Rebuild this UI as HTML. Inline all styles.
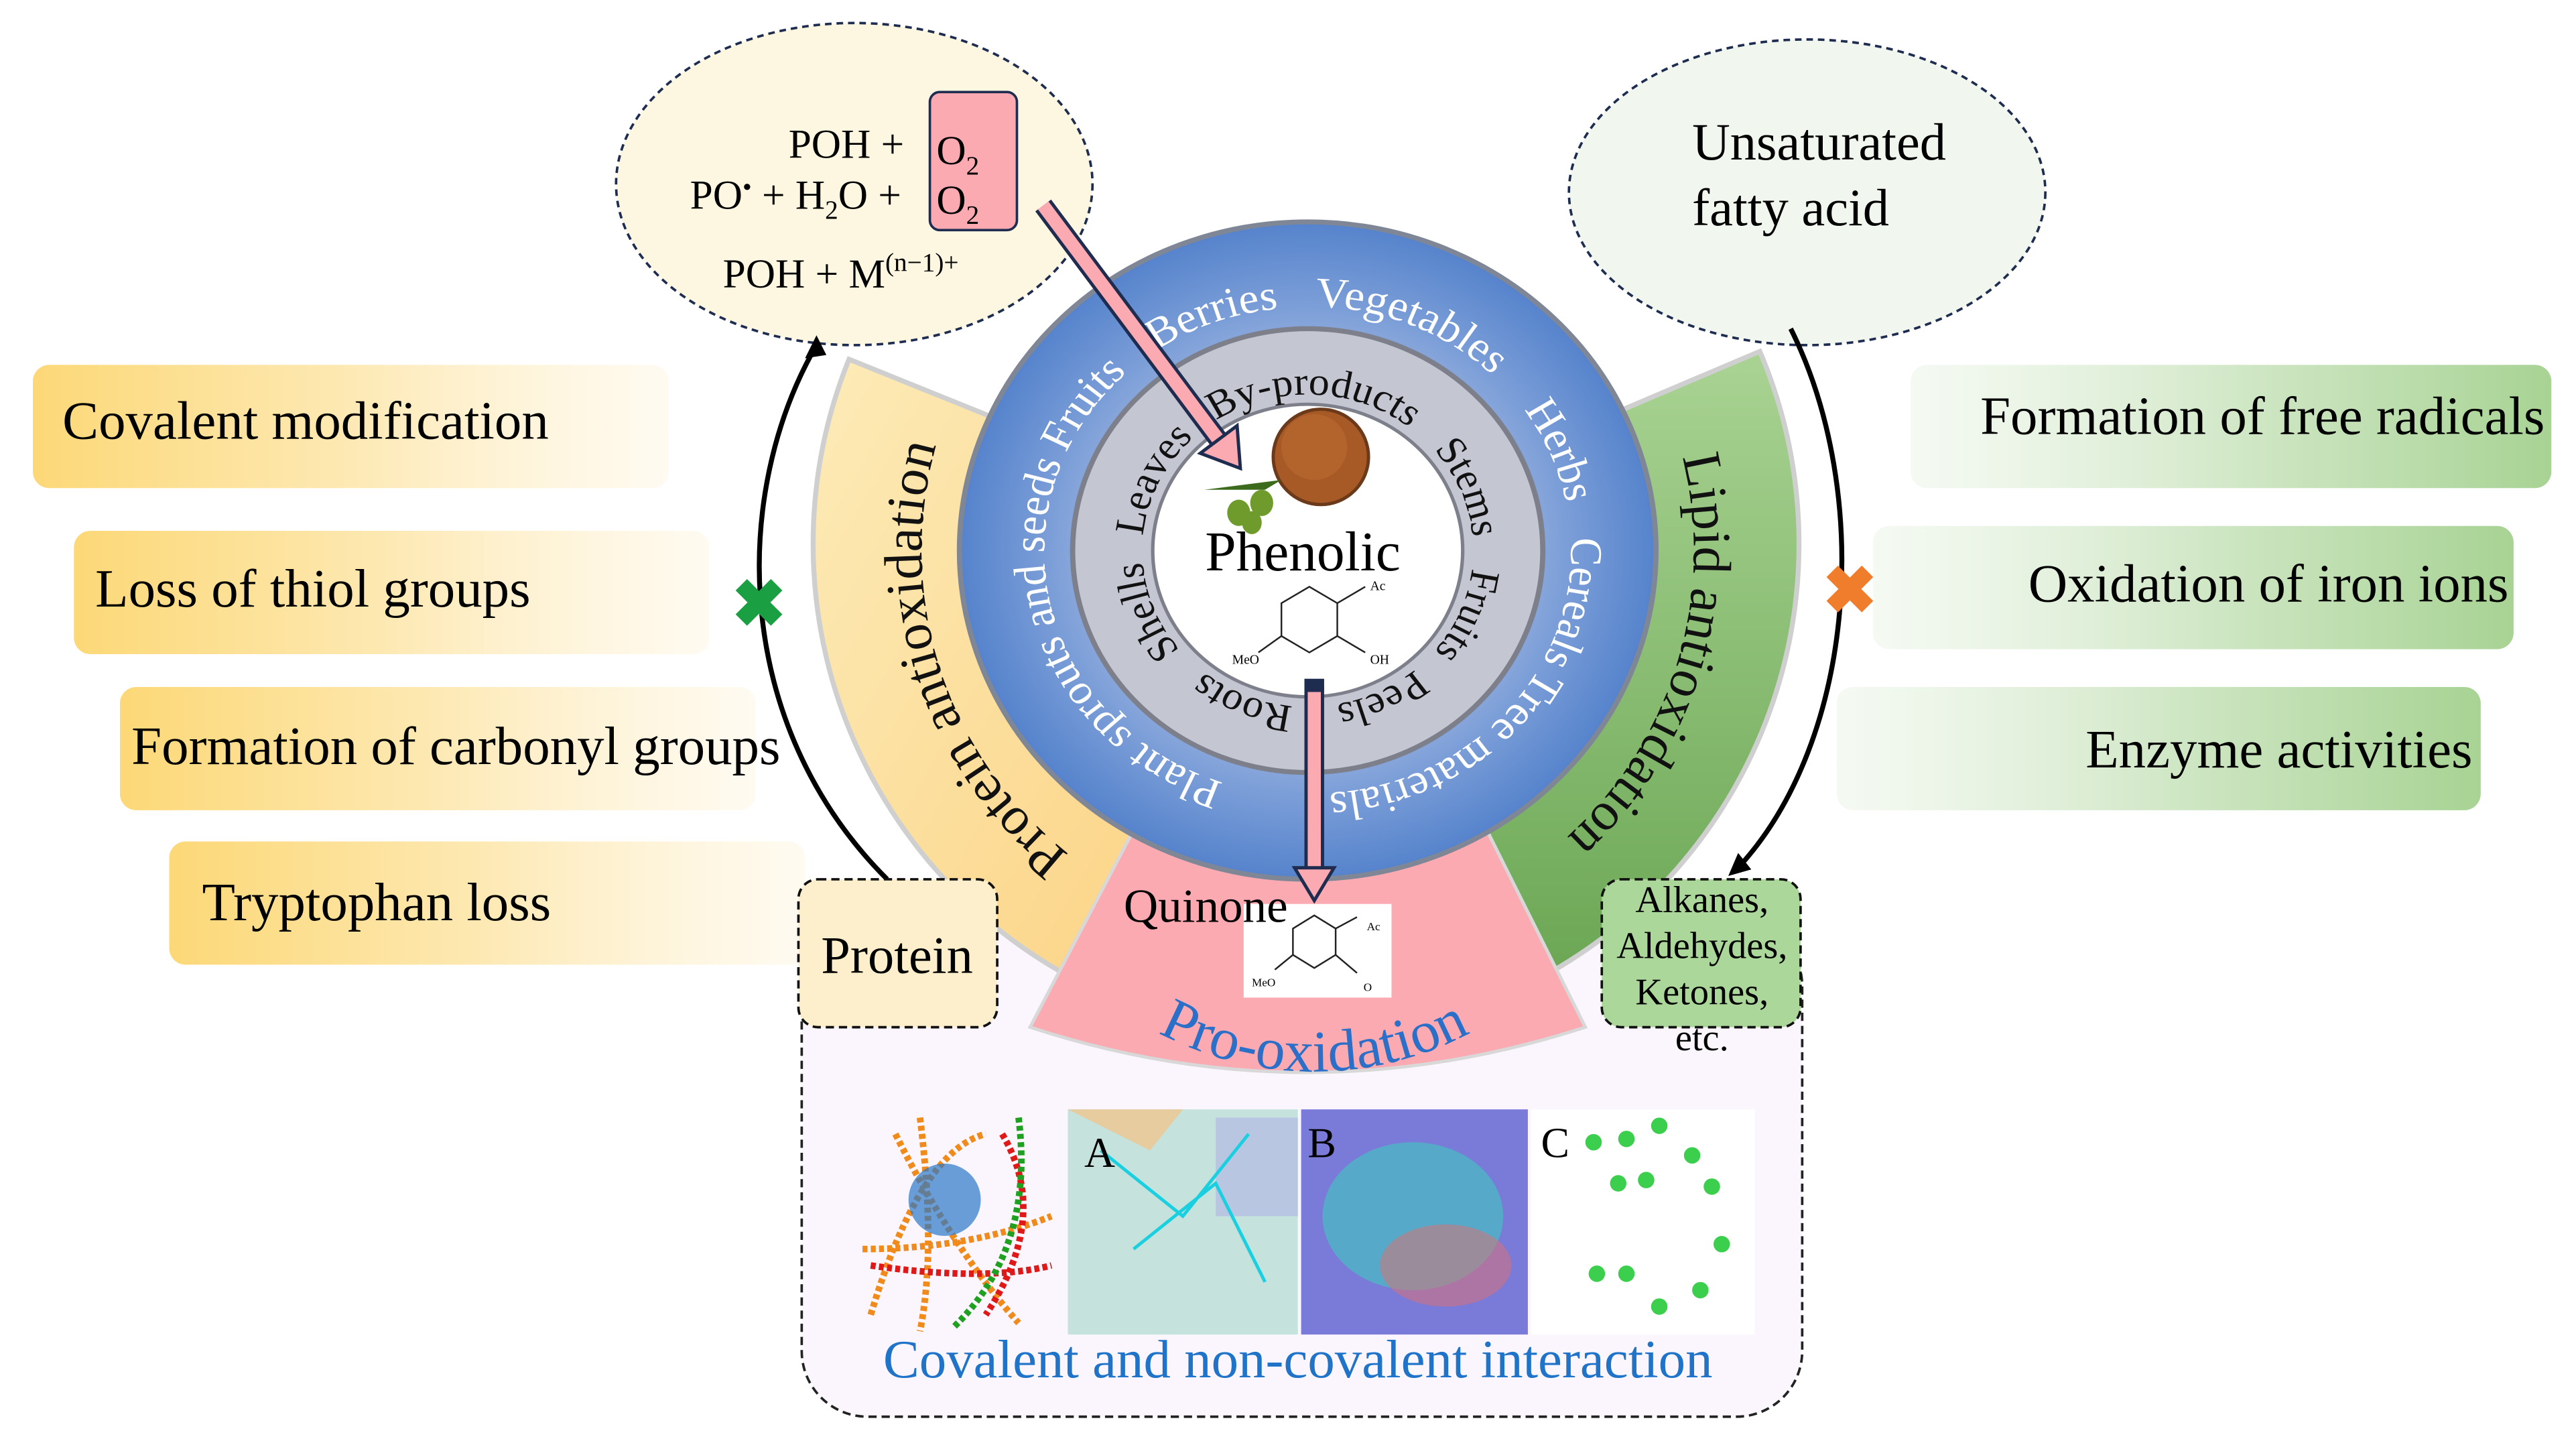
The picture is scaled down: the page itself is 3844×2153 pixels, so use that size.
<!DOCTYPE html>
<html><head><meta charset="utf-8"><style>
html,body{margin:0;padding:0;background:#fff;width:3844px;height:2153px;overflow:hidden}
svg{display:block}
text{font-family:"Liberation Serif",serif}
</style></head><body>
<svg width="3844" height="2153" viewBox="0 0 1568 878" preserveAspectRatio="none" xmlns="http://www.w3.org/2000/svg">
<defs>
<linearGradient id="yl" x1="0" y1="0" x2="1" y2="0"><stop offset="0" stop-color="#fcd877"/><stop offset="0.5" stop-color="#fde9b4"/><stop offset="1" stop-color="#fff8e8" stop-opacity="0.6"/></linearGradient>
<linearGradient id="gr" x1="0" y1="0" x2="1" y2="0"><stop offset="0" stop-color="#eef6ea" stop-opacity="0.6"/><stop offset="0.5" stop-color="#d2e8c8"/><stop offset="1" stop-color="#a8d394"/></linearGradient>
<linearGradient id="ys" x1="0" y1="0" x2="1" y2="1"><stop offset="0" stop-color="#fdebb8"/><stop offset="1" stop-color="#fbd384"/></linearGradient>
<linearGradient id="gs" x1="0" y1="0" x2="0" y2="1"><stop offset="0" stop-color="#a9d393"/><stop offset="1" stop-color="#6aa653"/></linearGradient>
<radialGradient id="bl" cx="0.5" cy="0.5" r="0.5"><stop offset="0.65" stop-color="#8aa8dc"/><stop offset="1" stop-color="#5583cc"/></radialGradient>
<path id="pb" d="M12.9,147.4 A148,148 0 1,1 -12.9,-147.4 A148,148 0 1,1 12.9,147.4"/>
<path id="pg" d="M0,95 A95,95 0 1,1 0,-95 A95,95 0 1,1 0,95"/>
<path id="ps" d="M796,570 A235,235 0 1,1 796,100 A235,235 0 1,1 796,570"/>
<path id="pp" d="M683.6,615.3 A203,203 0 0,0 916.4,615.3"/>
</defs>

<!-- left boxes -->
<rect x="20" y="222" width="387" height="75" rx="10" fill="url(#yl)"/>
<rect x="45" y="323" width="387" height="75" rx="10" fill="url(#yl)"/>
<rect x="73" y="418" width="387" height="75" rx="10" fill="url(#yl)"/>
<rect x="103" y="512" width="387" height="75" rx="10" fill="url(#yl)"/>
<text x="38" y="267" font-size="33">Covalent modification</text>
<text x="58" y="369" font-size="33">Loss of thiol groups</text>
<text x="80" y="465" font-size="33">Formation of carbonyl groups</text>
<text x="123" y="560" font-size="33">Tryptophan loss</text>
<!-- right boxes -->
<rect x="1163" y="222" width="390" height="75" rx="10" fill="url(#gr)"/>
<rect x="1140" y="320" width="390" height="75" rx="10" fill="url(#gr)"/>
<rect x="1118" y="418" width="392" height="75" rx="10" fill="url(#gr)"/>
<text x="1549" y="264" font-size="33" text-anchor="end">Formation of free radicals</text>
<text x="1527" y="366" font-size="33" text-anchor="end">Oxidation of iron ions</text>
<text x="1505" y="467" font-size="33" text-anchor="end">Enzyme activities</text>

<!-- bottom lilac box -->
<rect x="488" y="560" width="609" height="302" rx="40" fill="#fbf6fd" stroke="#222" stroke-width="1.5" stroke-dasharray="5,3"/>

<!-- sectors -->
<path d="M516.8,218.6 A300,300 0 0,0 668.2,602.9 L714.7,503.2 A190,190 0 0,1 618.8,259.8 Z" fill="url(#ys)" stroke="#cfcfcf" stroke-width="3"/>
<path d="M1071.2,213.8 A300,300 0 0,1 921.8,602.9 L875.3,503.2 A190,190 0 0,0 969.9,256.8 Z" fill="url(#gs)" stroke="#cfcfcf" stroke-width="3"/>
<path d="M690,505 L627,625 Q795,680 965,625 L905,505 Z" fill="#fbaab2" stroke="#d8d8d8" stroke-width="2"/>

<!-- circles -->
<g transform="translate(796,335) scale(1.06,1)">
<circle r="200" fill="url(#bl)" stroke="#7f8797" stroke-width="3"/>
<circle r="135" fill="#c4c6d2" stroke="#7d7f8a" stroke-width="3"/>
<circle r="89" fill="#fff" stroke="#7d7f8a" stroke-width="2"/>
<g fill="#fff" font-size="26">
<text><textPath href="#pb" startOffset="19.4%" text-anchor="middle">Plant sprouts and seeds</textPath></text>
<text><textPath href="#pb" startOffset="36.1%" text-anchor="middle">Fruits</textPath></text>
<text><textPath href="#pb" startOffset="45.6%" text-anchor="middle">Berries</textPath></text>
<text><textPath href="#pb" startOffset="57.8%" text-anchor="middle">Vegetables</textPath></text>
<text><textPath href="#pb" startOffset="70%" text-anchor="middle">Herbs</textPath></text>
<text><textPath href="#pb" startOffset="79.7%" text-anchor="middle">Cereals</textPath></text>
<text><textPath href="#pb" startOffset="92.2%" text-anchor="middle">Tree materials</textPath></text>
</g>
<g fill="#111" font-size="24">
<text><textPath href="#pg" startOffset="50.6%" text-anchor="middle">By-products</textPath></text>
<text><textPath href="#pg" startOffset="68.7%" text-anchor="middle">Stems</textPath></text>
<text><textPath href="#pg" startOffset="81.5%" text-anchor="middle">Fruits</textPath></text>
<text><textPath href="#pg" startOffset="93%" text-anchor="middle">Peels</textPath></text>
<text><textPath href="#pg" startOffset="6.1%" text-anchor="middle">Roots</textPath></text>
<text><textPath href="#pg" startOffset="18.9%" text-anchor="middle">Shells</textPath></text>
<text><textPath href="#pg" startOffset="32.2%" text-anchor="middle">Leaves</textPath></text>
</g>
</g>
<g fill="#111" font-size="33">
<text><textPath href="#ps" startOffset="20%" text-anchor="middle">Protein antioxidation</textPath></text>
<text><textPath href="#ps" startOffset="79.7%" text-anchor="middle">Lipid antioxidation</textPath></text>
</g>

<!-- center content -->
<circle cx="804" cy="278" r="29" fill="#a85a26" stroke="#6b3a1a" stroke-width="2"/>
<circle cx="800" cy="272" r="20" fill="#bb6a30" opacity="0.6"/>
<g fill="#6f9a2c"><ellipse cx="754" cy="312" rx="7" ry="8"/><ellipse cx="768" cy="306" rx="7" ry="8"/><ellipse cx="762" cy="318" rx="6" ry="7"/><path d="M733,298 L780,292 L770,298 Z" fill="#3d6b1e"/></g>
<text x="793" y="347" font-size="34" text-anchor="middle">Phenolic</text>
<g stroke="#222" stroke-width="1" fill="none">
<path d="M780,367 L797,357 L814,367 L814,387 L797,397 L780,387 Z"/>
<path d="M814,367 L831,357 M780,387 L766,397 M814,387 L831,397"/>
</g>
<text x="834" y="359" font-size="8">Ac</text><text x="750" y="404" font-size="8">MeO</text><text x="834" y="404" font-size="8">OH</text>

<!-- quinone -->
<rect x="757" y="550" width="90" height="57" fill="#fff"/>
<g stroke="#222" stroke-width="1" fill="none">
<path d="M787,565 L800,557 L813,565 L813,581 L800,589 L787,581 Z"/>
<path d="M813,565 L826,558 M787,581 L776,590 M813,581 L826,592"/>
</g>
<text x="832" y="566" font-size="7">Ac</text><text x="762" y="600" font-size="7">MeO</text><text x="830" y="603" font-size="7">O</text>
<text x="684" y="561" font-size="29">Quinone</text>
<text font-size="36" fill="#2a6fc8"><textPath href="#pp" startOffset="50%" text-anchor="middle">Pro-oxidation</textPath></text>

<!-- ellipses -->
<ellipse cx="520" cy="112" rx="145" ry="98" fill="#fdf7e2" stroke="#1e2c50" stroke-width="1.5" stroke-dasharray="4,3"/>
<ellipse cx="1100" cy="117" rx="145" ry="93" fill="#f1f7ee" stroke="#1e2c50" stroke-width="1.5" stroke-dasharray="4,3"/>
<rect x="566" y="56" width="53" height="84" rx="6" fill="#fbaab2" stroke="#1e2c50" stroke-width="1.5"/>
<g font-size="25">
<text x="480" y="96">POH +</text><text x="570" y="100">O<tspan font-size="16" dy="6">2</tspan></text>
<text x="420" y="127">PO<tspan font-size="16" dy="-8">•</tspan><tspan dy="8"> + H</tspan><tspan font-size="16" dy="6">2</tspan><tspan dy="-6">O +</tspan></text>
<text x="570" y="130">O<tspan font-size="16" dy="6">2</tspan></text>
<text x="440" y="175">POH + M<tspan font-size="16" dy="-10">(n−1)+</tspan></text>
</g>
<text x="1030" y="97" font-size="32">Unsaturated</text>
<text x="1030" y="137" font-size="32">fatty acid</text>

<!-- curved arrows -->
<path d="M540,535 C445,440 445,300 497,210" fill="none" stroke="#000" stroke-width="3"/>
<path d="M497,204 L490,218 L503,216 Z" fill="#000"/>
<path d="M1090,200 C1140,300 1130,450 1058,528" fill="none" stroke="#000" stroke-width="3"/>
<path d="M1052,533 L1058,519 L1066,529 Z" fill="#000"/>
<text x="462" y="381" font-size="40" fill="#1aa042" text-anchor="middle" font-family="DejaVu Sans" font-weight="bold">✖</text>
<text x="1126" y="373" font-size="40" fill="#f07d2c" text-anchor="middle" font-family="DejaVu Sans" font-weight="bold">✖</text>

<!-- pink arrows -->
<line x1="635" y1="125" x2="742" y2="268" stroke="#1e2c50" stroke-width="12"/>
<line x1="635" y1="125" x2="742" y2="268" stroke="#fbaab2" stroke-width="8"/>
<path d="M755,285 L730.6,275.8 L753,259 Z" fill="#fbaab2" stroke="#1e2c50" stroke-width="2"/>
<line x1="800" y1="418" x2="800" y2="530" stroke="#1e2c50" stroke-width="12"/>
<line x1="800" y1="421" x2="800" y2="530" stroke="#fbaab2" stroke-width="8"/>
<rect x="794" y="413" width="12" height="8" fill="#1e2c50"/>
<path d="M800,548 L788,528 L812,528 Z" fill="#fbaab2" stroke="#1e2c50" stroke-width="2"/>

<!-- protein / alkanes boxes -->
<rect x="486" y="535" width="121" height="90" rx="12" fill="#fdefcc" stroke="#111" stroke-width="1.5" stroke-dasharray="5,3"/>
<text x="546" y="592" font-size="32" text-anchor="middle">Protein</text>
<rect x="975" y="535" width="121" height="90" rx="12" fill="#acd79a" stroke="#111" stroke-width="1.5" stroke-dasharray="5,3"/>
<g font-size="23" text-anchor="middle"><text x="1036" y="555">Alkanes,</text><text x="1036" y="583">Aldehydes,</text><text x="1036" y="611">Ketones,</text><text x="1036" y="639">etc.</text></g>

<!-- images -->
<rect x="522" y="675" width="123" height="137" fill="#fbf6fd"/>
<path d="M530,800 Q560,700 600,690 M545,690 Q580,760 620,805 M525,760 Q590,760 640,740 M560,680 Q570,760 560,810" stroke="#f08a1a" stroke-width="4" fill="none" stroke-dasharray="3,2"/>
<path d="M610,690 Q640,740 600,800 M530,770 Q600,780 640,770" stroke="#e01818" stroke-width="4" fill="none" stroke-dasharray="3,2"/>
<path d="M620,680 Q630,760 580,808" stroke="#20a020" stroke-width="4" fill="none" stroke-dasharray="3,2"/>
<circle cx="575" cy="730" r="22" fill="#2a78c8" opacity="0.7"/>
<rect x="650" y="675" width="140" height="137" fill="#c5e2dc"/>
<path d="M650,675 L720,675 L700,700 Z" fill="#e6cc9e"/><rect x="740" y="680" width="50" height="60" fill="#b0b4e6" opacity="0.6"/>
<path d="M670,700 L720,740 L760,690 M690,760 L740,720 L770,780" stroke="#1ad0e0" stroke-width="2" fill="none"/>
<text x="660" y="710" font-size="26" font-family="Liberation Sans">A</text>
<rect x="792" y="675" width="138" height="137" fill="#7a7ad8"/>
<ellipse cx="860" cy="740" rx="55" ry="45" fill="#40c8c0" opacity="0.6"/><ellipse cx="880" cy="770" rx="40" ry="25" fill="#e07070" opacity="0.5"/>
<text x="796" y="704" font-size="26" font-family="Liberation Sans">B</text>
<rect x="932" y="675" width="136" height="137" fill="#fff"/>
<g fill="#3ccf4e"><circle cx="970" cy="695" r="5"/><circle cx="990" cy="693" r="5"/><circle cx="1010" cy="685" r="5"/><circle cx="1030" cy="703" r="5"/><circle cx="1042" cy="722" r="5"/><circle cx="1048" cy="757" r="5"/><circle cx="1035" cy="785" r="5"/><circle cx="1010" cy="795" r="5"/><circle cx="990" cy="775" r="5"/><circle cx="972" cy="775" r="5"/><circle cx="985" cy="720" r="5"/><circle cx="1002" cy="718" r="5"/></g>
<text x="938" y="704" font-size="26" font-family="Liberation Sans">C</text>
<text x="790" y="838" font-size="33" fill="#1f73c8" text-anchor="middle">Covalent and non-covalent interaction</text>
</svg>
</body></html>
